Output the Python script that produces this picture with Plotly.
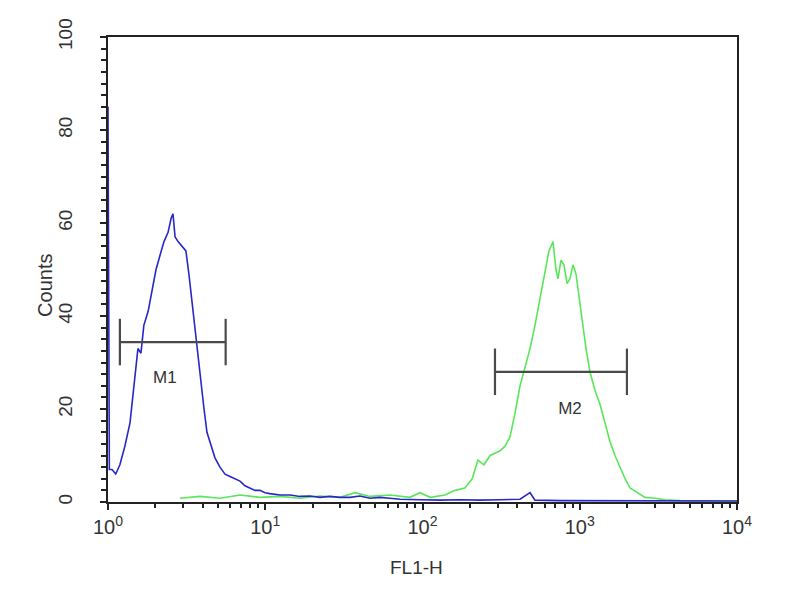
import plotly.graph_objects as go

# Blue histogram (FL1-H, counts)
blue_x = [1.0, 1.02, 1.06, 1.12, 1.19, 1.28, 1.38, 1.48, 1.55, 1.62, 1.69, 1.80, 1.90, 2.02, 2.14,
          2.27, 2.41, 2.52, 2.59, 2.67, 2.79, 2.96, 3.13, 3.27, 3.42, 3.57, 3.73, 3.90, 4.08,
          4.26, 4.52, 4.79, 5.15, 5.55, 5.97, 6.42, 6.91, 7.43, 8.00, 8.61, 9.26, 9.96, 10.7,
          12.4, 14.4, 16.6, 19.3, 22.3, 25.8, 29.9, 34.6, 40.0, 46.4, 53.7, 62.1, 71.9, 96.4,
          129, 173, 232, 311, 417, 483, 519, 749, 1345, 2417, 4343, 10000]
blue_y = [85, 7, 7, 6, 8, 12, 17, 27, 33, 32, 38, 41, 45, 50, 53,
          56, 58, 61, 62, 57, 56, 55, 54, 49, 43, 37, 31, 25, 20,
          15, 12, 9.5, 7.5, 6, 5.5, 5, 4.5, 3.5, 3, 2.5, 2.5, 2, 1.8,
          1.5, 1.5, 1.2, 1.3, 1.0, 1.2, 1.0, 1.0, 1.3, 0.8, 1.0, 0.8, 0.6, 0.5,
          0.4, 0.5, 0.4, 0.5, 0.6, 2.0, 0.4, 0.3, 0.3, 0.2, 0.2, 0.2]

# Green histogram (FL1-H, counts)
green_x = [2.87, 3.85, 5.15, 6.91, 9.26, 12.4, 16.6, 22.3, 29.9, 37.2, 46.4, 62.1, 83.2, 96.4,
           112, 139, 161, 186, 207, 225, 246, 269, 289, 311, 335, 360, 387, 417, 449, 483,
           519, 559, 601, 637, 676, 706, 727, 760, 794, 830, 867, 906, 947, 989, 1033, 1096,
           1161, 1250, 1345, 1448, 1556, 1675, 1803, 1941, 2089, 2346, 2600, 3010, 3483,
           4343, 10000]
green_y = [0.8, 1.2, 0.8, 1.5, 1.0, 1.2, 0.8, 1.3, 1.0, 2.0, 1.2, 1.5, 1.0, 2.0,
           1.0, 1.5, 2.5, 3, 5, 9, 8, 10, 10.5, 11, 12, 14, 19, 25, 29, 33,
           38, 44, 50, 54, 56, 50, 48, 52, 51, 47, 48, 51, 49, 44, 39, 33,
           28, 24, 21, 17, 13, 10, 7.5, 5, 3, 2, 1, 0.8, 0.5,
           0.3, 0.2]

# Marker gates
gate_names = ["M1", "M2"]
gate_lo = [1.19, 289]
gate_hi = [5.6, 1995]
gate_level = [34.4, 28]
gate_label_x = [2.3, 867]
gate_label_y = [26.5, 19.8]
gate_halfheight = 5

x_tickvals = [1, 10, 100, 1000, 10000]
x_ticktext = ["10<sup>0</sup>", "10<sup>1</sup>", "10<sup>2</sup>", "10<sup>3</sup>", "10<sup>4</sup>"]
y_tickvals = [0, 20, 40, 60, 80, 100]
x_title = "FL1-H"
y_title = "Counts"

fig = go.Figure()
fig.add_trace(go.Scatter(x=green_x, y=green_y, mode="lines",
                         line=dict(color="rgb(90,230,90)", width=1.6), showlegend=False))
fig.add_trace(go.Scatter(x=blue_x, y=blue_y, mode="lines",
                         line=dict(color="rgb(40,40,200)", width=1.6), showlegend=False))

for i in range(len(gate_names)):
    lo, hi, lv = gate_lo[i], gate_hi[i], gate_level[i]
    h = gate_halfheight
    fig.add_trace(go.Scatter(x=[lo, hi], y=[lv, lv], mode="lines",
                             line=dict(color="#4a4a4a", width=2.2), showlegend=False))
    fig.add_trace(go.Scatter(x=[lo, lo], y=[lv - h, lv + h], mode="lines",
                             line=dict(color="#4a4a4a", width=2.2), showlegend=False))
    fig.add_trace(go.Scatter(x=[hi, hi], y=[lv - h, lv + h], mode="lines",
                             line=dict(color="#4a4a4a", width=2.2), showlegend=False))
    fig.add_trace(go.Scatter(x=[gate_label_x[i]], y=[gate_label_y[i]], mode="text",
                             text=[gate_names[i]], textposition="middle center",
                             textfont=dict(family="Liberation Sans, Arial", size=17, color="#333"),
                             showlegend=False))

minor_x = []
for d in [1, 10, 100, 1000]:
    for m in range(2, 10):
        minor_x.append(d * m)

fig.update_layout(
    width=792, height=592,
    margin=dict(l=100, r=63, t=29, b=98, autoexpand=False),
    paper_bgcolor="white", plot_bgcolor="white",
    font=dict(family="Liberation Sans, Arial", size=18, color="#333"),
    xaxis=dict(type="log", range=[0, 4], tickvals=x_tickvals, ticktext=x_ticktext,
               showline=True, linecolor="#222", linewidth=2, mirror=True,
               ticks="outside", ticklen=6, tickwidth=1.5, tickcolor="#222",
               minor=dict(tickvals=minor_x, ticks="outside", ticklen=4, tickcolor="#222"),
               showgrid=False, zeroline=False, automargin=False,
               tickfont=dict(size=20)),
    yaxis=dict(range=[0, 100], tickvals=y_tickvals, tickangle=-90,
               showline=True, linecolor="#222", linewidth=2, mirror=True,
               ticks="outside", ticklen=6, tickwidth=1.5, tickcolor="#222",
               minor=dict(dtick=2.5, ticks="outside", ticklen=5, tickcolor="#222"),
               showgrid=False, zeroline=False, automargin=False,
               tickfont=dict(size=19), ticklabelstandoff=20),
    annotations=[
        dict(text=x_title, xref="paper", yref="paper", x=0.49, y=-0.14,
             showarrow=False, font=dict(size=19), xanchor="center", yanchor="middle"),
        dict(text=y_title, xref="paper", yref="paper", x=-0.1, y=0.465, textangle=-90,
             showarrow=False, font=dict(size=20), xanchor="center", yanchor="middle"),
    ],
)

fig.write_html("out.html")
